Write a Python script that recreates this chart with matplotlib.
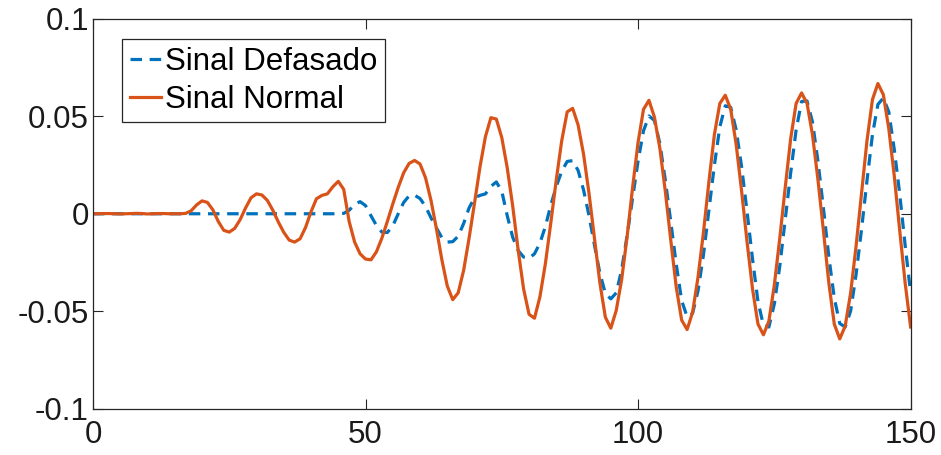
import numpy as np
import matplotlib
matplotlib.use("Agg")
import matplotlib.pyplot as plt

# sample values, one per sample index 0..150
sinal_normal = [
    0.0, 0.0, 0.0001, 0.0001, 0.0, -0.0001, 0.0, 0.0001, 0.0002, 0.0001,
    -0.0001, 0.0, 0.0001, 0.0001, 0.0, 0.0, 0.0, 0.0002, 0.0015, 0.0045,
    0.0066, 0.0058, 0.002, -0.004, -0.0085, -0.0094, -0.0075, -0.003, 0.003, 0.0082,
    0.0102, 0.0096, 0.0068, 0.0018, -0.0042, -0.0095, -0.0135, -0.0145, -0.0128, -0.007,
    0.001, 0.0077, 0.0094, 0.0102, 0.0138, 0.0166, 0.0125, -0.004, -0.0145, -0.0205,
    -0.0232, -0.0236, -0.0195, -0.0125, -0.004, 0.005, 0.0135, 0.021, 0.0258, 0.0273,
    0.0255, 0.0185, 0.007, -0.0075, -0.0235, -0.037, -0.044, -0.0405, -0.029, -0.0125,
    0.0055, 0.024, 0.0395, 0.0492, 0.0485, 0.039, 0.0235, 0.004, -0.0185, -0.0385,
    -0.0515, -0.0535, -0.0425, -0.0255, -0.0045, 0.0175, 0.0375, 0.0522, 0.054, 0.0455,
    0.0305, 0.0105, -0.0125, -0.0355, -0.053, -0.0586, -0.0495, -0.0335, -0.0115, 0.0135,
    0.0365, 0.0535, 0.0581, 0.0495, 0.0335, 0.0115, -0.0135, -0.0375, -0.0545, -0.0593,
    -0.0505, -0.0325, -0.0095, 0.0165, 0.0405, 0.0565, 0.0607, 0.0535, 0.0355, 0.0115,
    -0.0145, -0.0385, -0.0565, -0.062, -0.055, -0.0365, -0.0125, 0.0135, 0.0385, 0.0565,
    0.0619, 0.0565, 0.0405, 0.0175, -0.0085, -0.0355, -0.0565, -0.0641, -0.0575, -0.0405,
    -0.0165, 0.0105, 0.0375, 0.0585, 0.0667, 0.061, 0.0435, 0.0195, -0.0085, -0.0355,
    -0.058,
]

sinal_defasado = [
    0.0, 0.0, 0.0, 0.0, 0.0, 0.0, 0.0, 0.0, 0.0, 0.0,
    0.0, 0.0, 0.0, 0.0, 0.0, 0.0, 0.0, 0.0, 0.0, 0.0,
    0.0, 0.0, 0.0, 0.0, 0.0, 0.0, 0.0, 0.0, 0.0, 0.0,
    0.0, 0.0, 0.0, 0.0, 0.0, 0.0, 0.0, 0.0, 0.0, 0.0,
    0.0, 0.0, 0.0, 0.0, 0.0, 0.0, 0.0002, 0.0018, 0.0048, 0.0062,
    0.0042, -0.001, -0.006, -0.0094, -0.0096, -0.0062, 0.0, 0.0058, 0.0092, 0.0095,
    0.0078, 0.0038, -0.002, -0.0072, -0.0122, -0.0145, -0.0143, -0.0115, -0.005, 0.003,
    0.0082, 0.0094, 0.0102, 0.014, 0.0163, 0.0115, -0.001, -0.012, -0.0188, -0.0222,
    -0.0228, -0.0205, -0.015, -0.0065, 0.0045, 0.014, 0.0218, 0.0268, 0.0272, 0.0222,
    0.0122, -0.001, -0.016, -0.0305, -0.0408, -0.0436, -0.0405, -0.0285, -0.011, 0.008,
    0.027, 0.0425, 0.0501, 0.0478, 0.036, 0.0172, -0.004, -0.0258, -0.0445, -0.0528,
    -0.051, -0.0395, -0.021, 0.002, 0.0248, 0.0445, 0.0553, 0.0545, 0.043, 0.024,
    0.001, -0.0232, -0.045, -0.0572, -0.058, -0.0462, -0.0268, -0.003, 0.021, 0.043,
    0.0575, 0.0578, 0.047, 0.027, 0.003, -0.022, -0.0432, -0.0562, -0.058, -0.0498,
    -0.031, -0.008, 0.017, 0.0405, 0.056, 0.0593, 0.0522, 0.033, 0.0102, -0.0162,
    -0.0405,
]

amostras = np.arange(len(sinal_normal))

azul = "#0072BD"
laranja = "#D95319"
cinza = "#262626"

plt.rcParams['font.family'] = ['Liberation Sans', 'DejaVu Sans']

fig = plt.figure(figsize=(9.41, 4.55), dpi=100)
ax = fig.add_axes([0.0988, 0.1011, 0.8689, 0.8582])

ax.plot(amostras, sinal_defasado, color=azul, lw=2.3, linestyle=(0, (3.6, 2.4)),
        label="Sinal Defasado")
ax.plot(amostras, sinal_normal, color=laranja, lw=2.3, label="Sinal Normal")

ax.set_xlim(0, 150)
ax.set_ylim(-0.1, 0.1)
ax.set_xticks([0, 50, 100, 150])
ax.set_yticks([-0.1, -0.05, 0, 0.05, 0.1])
ax.set_yticklabels(["-0.1", "-0.05", "0", "0.05", "0.1"], fontsize=22.5)
ax.set_xticklabels(["0", "50", "100", "150"], fontsize=22.5)

ax.tick_params(direction="in", length=7, width=0.8, color=cinza, labelcolor="#1a1a1a",
               top=True, right=True)
ax.tick_params(axis="y", pad=3)
ax.tick_params(axis="x", pad=8)
for s in ax.spines.values():
    s.set_color(cinza)
    s.set_linewidth(0.9)

leg = ax.legend(loc="upper left", bbox_to_anchor=(0.0355, 0.9475), borderaxespad=0,
                fontsize=22.5, fancybox=False, framealpha=1, edgecolor=cinza,
                handlelength=1.0, handletextpad=0.12, labelspacing=0.25,
                borderpad=0.25)
leg.get_frame().set_linewidth(0.9)

fig.savefig("out.png", dpi=100)
